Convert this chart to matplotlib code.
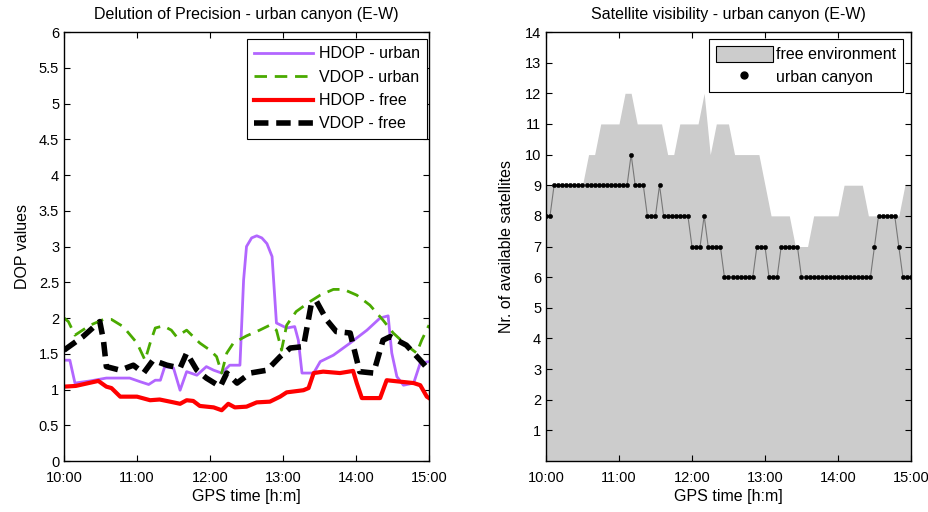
import numpy as np
import matplotlib
matplotlib.use('Agg')
import matplotlib.pyplot as plt
from matplotlib.patches import Patch
from matplotlib.lines import Line2D

plt.rcParams['font.family'] = ['Liberation Sans', 'DejaVu Sans']
plt.rcParams['font.size'] = 10

# --- DOP data (time in hours after 10:00) ---
hdop_urban_t = [0, 0.08, 0.15, 0.36, 0.58, 0.90, 1.04, 1.16, 1.25, 1.32, 1.38, 1.50, 1.59,
                1.68, 1.82, 1.95, 2.05, 2.16, 2.27, 2.41, 2.46, 2.50, 2.57, 2.64, 2.71,
                2.78, 2.85, 2.91, 3.05, 3.16, 3.21, 3.26, 3.42, 3.51, 3.69, 3.92, 4.15,
                4.33, 4.44, 4.49, 4.56, 4.65, 4.79, 4.88, 5.0]
hdop_urban = [1.41, 1.41, 1.09, 1.12, 1.16, 1.16, 1.11, 1.07, 1.13, 1.13, 1.32, 1.30, 0.99,
              1.25, 1.20, 1.32, 1.27, 1.23, 1.34, 1.34, 2.53, 3.0, 3.12, 3.15, 3.12,
              3.04, 2.86, 1.93, 1.86, 1.88, 1.69, 1.23, 1.23, 1.39, 1.48, 1.65, 1.83,
              2.0, 2.03, 1.51, 1.18, 1.06, 1.09, 1.37, 1.39]

vdop_urban_t = [0, 0.06, 0.15, 0.36, 0.54, 0.65, 0.81, 1.0, 1.11, 1.18, 1.25, 1.36, 1.47,
                1.54, 1.68, 1.86, 2.0, 2.09, 2.16, 2.23, 2.32, 2.50, 2.68, 2.82, 2.91,
                2.98, 3.05, 3.18, 3.37, 3.51, 3.69, 3.83, 4.01, 4.19, 4.37, 4.51, 4.69,
                4.83, 4.90, 5.0]
vdop_urban = [2.0, 1.95, 1.76, 1.90, 1.98, 1.98, 1.88, 1.65, 1.41, 1.65, 1.86, 1.89, 1.83,
              1.74, 1.83, 1.65, 1.55, 1.46, 1.23, 1.51, 1.65, 1.75, 1.83, 1.90, 1.83,
              1.55, 1.90, 2.09, 2.23, 2.32, 2.40, 2.40, 2.32, 2.18, 1.97, 1.79, 1.62,
              1.51, 1.69, 1.90]

hdop_free_t = [0, 0.16, 0.47, 0.58, 0.65, 0.77, 1.0, 1.18, 1.31, 1.50, 1.59, 1.68, 1.77,
               1.86, 2.05, 2.16, 2.25, 2.34, 2.50, 2.64, 2.82, 2.96, 3.05, 3.28, 3.35,
               3.42, 3.55, 3.78, 3.96, 4.01, 4.08, 4.33, 4.42, 4.60, 4.79, 4.88, 4.97, 5.0]
hdop_free = [1.04, 1.05, 1.12, 1.04, 1.02, 0.90, 0.90, 0.85, 0.86, 0.82, 0.80, 0.85, 0.84,
             0.77, 0.75, 0.71, 0.80, 0.75, 0.76, 0.82, 0.83, 0.90, 0.96, 0.99, 1.02,
             1.23, 1.25, 1.23, 1.26, 1.09, 0.88, 0.88, 1.13, 1.11, 1.09, 1.06, 0.90, 0.88]

vdop_free_t = [0, 0.26, 0.49, 0.54, 0.58, 0.77, 0.95, 1.09, 1.22, 1.41, 1.59, 1.68, 1.82,
               1.95, 2.14, 2.23, 2.37, 2.55, 2.78, 2.96, 3.10, 3.28, 3.39, 3.46, 3.60,
               3.73, 3.92, 4.05, 4.24, 4.37, 4.47, 4.69, 4.88, 5.0]
vdop_free = [1.55, 1.74, 1.95, 1.69, 1.32, 1.27, 1.34, 1.23, 1.41, 1.34, 1.30, 1.51, 1.27,
             1.16, 1.04, 1.23, 1.09, 1.23, 1.27, 1.46, 1.58, 1.60, 2.21, 2.23, 1.97,
             1.81, 1.79, 1.25, 1.23, 1.69, 1.74, 1.62, 1.41, 1.27]

# --- satellite visibility ---
# free environment, one value every 5 minutes
free_env = [9, 9, 9, 9, 9, 9, 9, 10, 10, 11, 11, 11, 11, 12, 12, 11, 11, 11, 11, 11,
            10, 10, 11, 11, 11, 11, 12, 10, 11, 11, 11, 10, 10, 10, 10, 10, 9, 8, 8, 8,
            8, 7, 7, 7, 8, 8, 8, 8, 8, 9, 9, 9, 9, 8, 8, 8, 8, 8, 8, 9, 9]
# urban canyon, one value every 200 s
urban = [8, 8, 9, 9, 9, 9, 9, 9, 9, 9, 9, 9, 9, 9, 9, 9, 9, 9, 9, 9,
         9, 10, 9, 9, 9, 8, 8, 8, 9, 8, 8, 8, 8, 8, 8, 8, 7, 7, 7, 8,
         7, 7, 7, 7, 6, 6, 6, 6, 6, 6, 6, 6, 7, 7, 7, 6, 6, 6, 7, 7,
         7, 7, 7, 6, 6, 6, 6, 6, 6, 6, 6, 6, 6, 6, 6, 6, 6, 6, 6, 6,
         6, 7, 8, 8, 8, 8, 8, 7, 6, 6, 6]

hour_labels = ['10:00', '11:00', '12:00', '13:00', '14:00', '15:00']

t_free = np.linspace(0, 5, len(free_env))
t_urban = np.linspace(0, 5, len(urban))

fig = plt.figure(figsize=(9.29, 5.12), dpi=100)
ax1 = fig.add_axes([0.0689, 0.0996, 0.3929, 0.8379])
ax2 = fig.add_axes([0.5877, 0.0996, 0.3929, 0.8379])

purple = '#b266ff'
green = '#4aaa00'

ax1.plot(hdop_urban_t, hdop_urban, color=purple, linewidth=2, label='HDOP - urban')
ax1.plot(vdop_urban_t, vdop_urban, color=green, linewidth=2, dashes=(4.5, 2.8),
         label='VDOP - urban')
ax1.plot(hdop_free_t, hdop_free, color='red', linewidth=3, label='HDOP - free')
ax1.plot(vdop_free_t, vdop_free, color='black', linewidth=4, dashes=(2.6, 1.4),
         label='VDOP - free')
ax1.set_xlim(0, 5)
ax1.set_ylim(0, 6)
ax1.set_yticks(np.arange(0, 6.01, 0.5))
ax1.set_yticklabels(['0', '0.5', '1', '1.5', '2', '2.5', '3', '3.5', '4', '4.5',
                     '5', '5.5', '6'])
ax1.set_title('Delution of Precision - urban canyon (E-W)', fontsize=11.5, pad=9)
ax1.set_ylabel('DOP values', fontsize=11.5, labelpad=6)
leg1 = ax1.legend(loc='upper right', bbox_to_anchor=(0.995, 0.983), borderaxespad=0,
                  fancybox=False, edgecolor='black', framealpha=1, handlelength=3.7,
                  labelspacing=0.52, borderpad=0.45, handletextpad=0.35,
                  fontsize=11.5)
leg1.get_frame().set_linewidth(0.8)

ax2.fill_between(t_free, free_env, 0, color='#cccccc', linewidth=0)
ax2.plot(t_urban, urban, color='#777777', linewidth=0.8, marker='o', markersize=3.0,
         markerfacecolor='black', markeredgecolor='black', markeredgewidth=0.4)
ax2.set_xlim(0, 5)
ax2.set_ylim(0, 14)
ax2.set_yticks(range(1, 15))
ax2.set_title('Satellite visibility - urban canyon (E-W)', fontsize=11.5, pad=9)
ax2.set_ylabel('Nr. of available satellites', fontsize=11.5, labelpad=8)
handles = [Patch(facecolor='#cccccc', edgecolor='black', linewidth=0.8),
           Line2D([], [], linestyle='none', marker='o', markersize=5,
                  markerfacecolor='black', markeredgecolor='black')]
leg2 = ax2.legend(handles, ['free environment', 'urban canyon'], loc='upper right',
                  bbox_to_anchor=(0.978, 0.983), borderaxespad=0, fancybox=False,
                  edgecolor='black', framealpha=1, handlelength=3.6, handleheight=1.2,
                  labelspacing=0.4, borderpad=0.4, handletextpad=0.2, fontsize=11.5)
leg2.get_frame().set_linewidth(0.8)

for ax in (ax1, ax2):
    ax.set_xticks(range(6))
    ax.set_xticklabels(hour_labels)
    ax.set_xlabel('GPS time [h:m]', fontsize=11.5, labelpad=3)
    ax.tick_params(direction='in', top=True, right=True, length=4, width=0.8,
                   labelsize=10.5, colors='black')
    ax.tick_params(axis='x', pad=7)
    for s in ax.spines.values():
        s.set_linewidth(1.0)

fig.savefig('out.png', dpi=100)
